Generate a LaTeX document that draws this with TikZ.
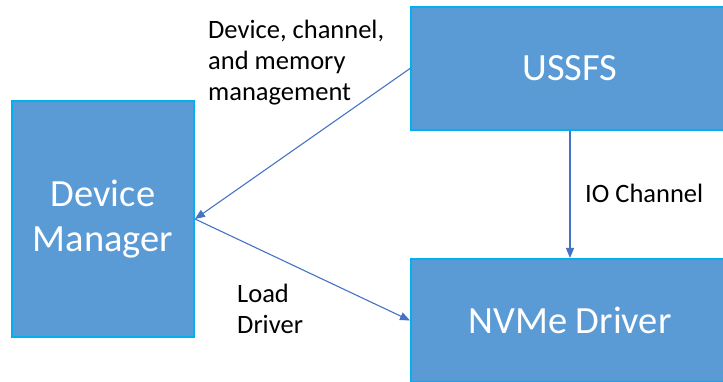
\documentclass[tikz,border=0pt]{standalone}
\usepackage{fontspec}
\setmainfont{Carlito}
\usetikzlibrary{arrows.meta}
\definecolor{boxfill}{HTML}{5B9BD5}
\definecolor{boxedge}{HTML}{00B0F0}
\definecolor{linkblue}{HTML}{4472C4}
\begin{document}
\begin{tikzpicture}[x=1pt,y=-1pt,
  block/.style={draw=boxedge,line width=2pt,fill=boxfill,text=white,
    font=\fontsize{38.5}{45}\selectfont,align=center,inner sep=0pt},
  link/.style={draw=linkblue,line width=1.1pt,-{Triangle[length=10pt,width=8pt]}},
  caption/.style={font=\fontsize{26.5}{31}\selectfont,align=left,
    anchor=north west,inner sep=0pt}]
\useasboundingbox (0,0) rectangle (723,382);
\clip (0,0) rectangle (723,382);
% blocks
\node[block,minimum width=182pt,minimum height=236pt] (dm) at (103,219) {Device\\Manager};
\node[block,minimum width=318pt,minimum height=123pt] (ussfs) at (570,68.5) {USSFS};
\node[block,minimum width=318pt,minimum height=123pt] (nvme) at (570,320.5) {NVMe Driver};
% connectors
\draw[link] (ussfs.west) -- (dm.east);
\draw[link] (dm.east) -- (nvme.west);
\draw[link] (ussfs.south) -- (nvme.north);
% labels
\node[caption] (lblmgmt) at (208,19.5) {Device, channel,\\and memory\\management};
\node[caption] (lblload) at (237,283.5) {Load\\Driver};
\node[caption] (lblio) at (585,183.5) {IO Channel};
\end{tikzpicture}
\end{document}
